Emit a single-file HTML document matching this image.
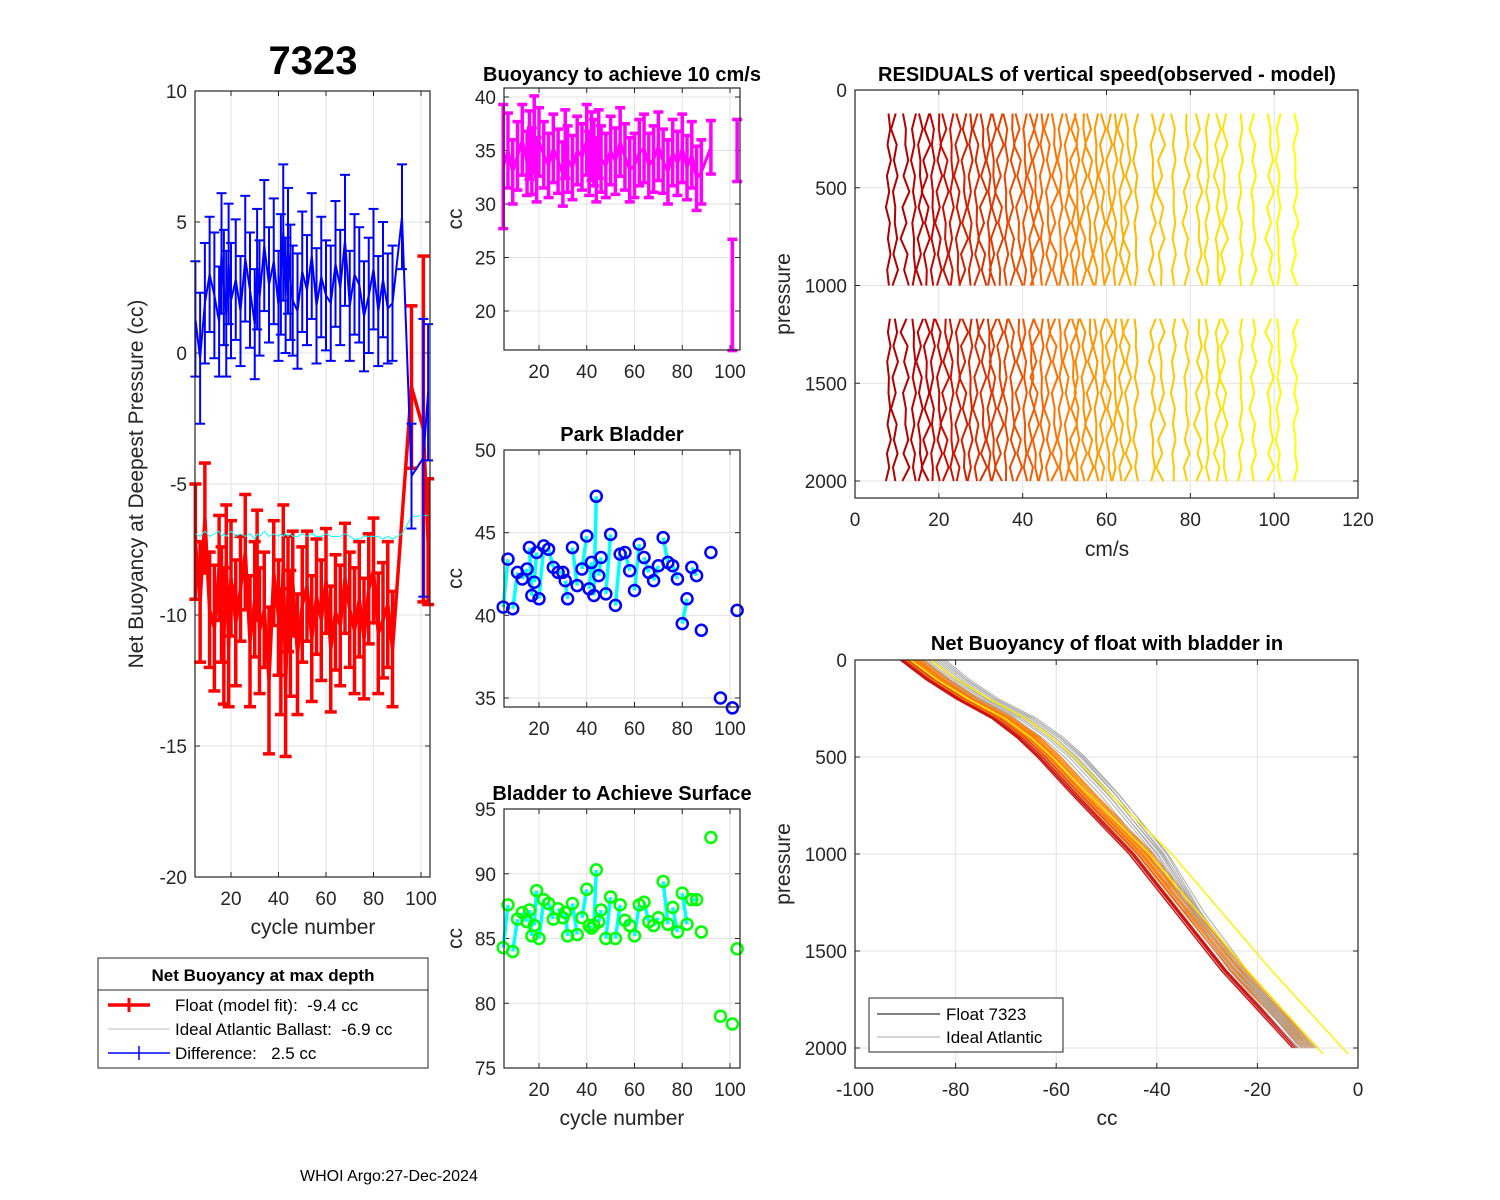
<!DOCTYPE html>
<html><head><meta charset="utf-8"><style>
html,body{margin:0;padding:0;background:#fff}
svg{display:block;font-family:"Liberation Sans",Arial,sans-serif}
text{white-space:pre}
</style></head><body>
<svg id="fig" width="1500" height="1200" viewBox="0 0 1500 1200" xmlns="http://www.w3.org/2000/svg">
<rect width="1500" height="1200" fill="#fff"/>
<g id="root"></g>
<text x="300" y="1181" font-size="16" fill="#000">WHOI Argo:27-Dec-2024</text>
</svg>
<script>
const cycles=[5,7,9,11,13,15,16,17,18,19,20,22,24,26,28,30,31,32,34,36,38,40,41,42,43,44,45,46,48,50,52,54,56,58,60,62,64,66,68,70,72,74,76,78,80,82,84,86,88,92,96,101,103];
const floatFit=[-7.2,-9.5,-6.3,-9.8,-10.5,-8.2,-9.6,-10.8,-7.9,-11.2,-8.6,-10.3,-9.0,-7.6,-11.0,-9.4,-8.1,-10.6,-9.8,-12.5,-8.4,-10.1,-11.4,-7.9,-12.8,-9.2,-10.7,-8.8,-11.5,-9.6,-8.9,-10.9,-9.3,-10.2,-8.7,-11.3,-9.9,-10.4,-8.6,-9.8,-10.6,-9.4,-10.9,-9.0,-8.3,-10.7,-10.2,-9.6,-11.3,null,-1.3,-2.9,-7.2];
const floatErr=[2.2,2.3,2.1,2.2,2.4,2.0,2.2,2.6,2.1,2.3,2.2,2.4,2.0,2.2,2.5,2.2,2.1,2.4,2.2,2.8,2.0,2.2,2.4,2.1,2.6,2.2,2.4,2.0,2.3,2.2,2.1,2.4,2.2,2.3,2.0,2.4,2.2,2.3,2.1,2.2,2.4,2.2,2.3,2.1,2.0,2.3,2.2,2.4,2.2,null,3.1,6.6,2.4];
const difference=[1.3,-0.2,1.9,3.0,2.2,1.2,3.8,2.5,1.5,3.4,2.0,2.8,1.6,3.6,2.4,1.1,3.2,2.1,4.1,2.6,3.5,1.8,3.0,4.6,2.2,3.9,2.7,2.0,1.6,3.1,2.4,3.7,1.8,2.9,2.2,1.9,3.4,2.5,4.3,1.8,3.0,2.6,1.4,2.2,3.2,1.6,2.8,1.7,1.9,5.2,-4.7,-4.0,-1.5];
const diffErr=[2.2,2.5,2.3,2.2,2.4,2.1,2.3,2.2,2.4,2.3,2.2,2.3,2.1,2.4,2.2,2.1,2.3,2.2,2.5,2.2,2.4,2.1,2.3,2.6,2.2,2.4,2.2,2.1,2.2,2.3,2.1,2.4,2.2,2.3,2.1,2.2,2.4,2.2,2.5,2.1,2.3,2.2,2.1,2.2,2.3,2.1,2.2,2.1,2.2,2.0,2.0,5.3,2.6];
const idealBallast=[-6.9,-7.0,-6.8,-7.0,-6.9,-6.8,-7.0,-6.9,-7.0,-6.9,-6.8,-7.0,-6.9,-7.0,-6.9,-7.1,-6.9,-7.0,-6.8,-7.0,-6.9,-7.0,-6.9,-7.0,-6.9,-7.0,-6.9,-7.0,-7.0,-6.9,-7.0,-6.9,-7.0,-7.0,-6.9,-7.0,-7.0,-7.0,-6.9,-7.0,-7.1,-7.1,-7.0,-7.0,-7.0,-7.0,-7.1,-7.0,-7.1,-6.9,-6.25,-6.2,-6.2];
const buoy10=[33.5,35.0,33.0,34.5,36.0,33.8,35.5,34.0,36.5,33.2,35.8,34.6,33.6,35.2,34.0,32.8,35.6,34.2,33.4,35.0,34.4,36.0,33.8,35.4,34.8,33.2,35.6,34.2,33.6,35.0,34.0,35.8,34.4,33.2,33.6,34.8,35.2,33.6,34.2,35.4,34.0,33.0,34.8,33.8,35.2,33.4,34.6,32.4,33.0,35.3,null,21.5,35.0];
const buoy10Err=[5.8,3.5,3.0,3.2,3.3,3.0,3.2,3.1,3.6,3.0,3.2,3.1,3.0,3.2,3.0,3.0,3.2,3.1,3.0,3.2,3.1,3.3,3.0,3.2,3.1,3.0,3.2,3.1,3.0,3.2,3.1,3.2,3.1,3.0,3.0,3.1,3.2,3.0,3.1,3.2,3.0,3.0,3.1,3.0,3.2,3.0,3.1,3.0,3.0,2.5,null,5.2,2.9];
const parkBladder=[40.5,43.4,40.4,42.6,42.2,42.8,44.1,41.2,42.0,43.8,41.0,44.2,44.0,42.9,42.6,42.6,42.1,41.0,44.1,41.8,42.8,44.8,41.6,43.2,41.2,47.2,42.4,43.5,41.3,44.9,40.6,43.7,43.8,42.7,41.5,44.3,43.5,42.6,42.1,43.0,44.7,43.2,43.0,42.2,39.5,41.0,42.9,42.4,39.1,43.8,35.0,34.4,40.3];
const surfBladder=[84.3,87.6,84.0,86.5,87.0,86.3,87.2,85.2,86.0,88.7,85.0,88.0,87.7,86.5,87.3,86.6,87.0,85.2,87.7,85.3,86.6,88.8,86.0,85.8,86.0,90.3,86.3,87.2,85.0,88.2,85.0,87.6,86.4,86.0,85.2,87.6,87.8,86.3,86.0,86.6,89.4,86.1,87.4,85.5,88.5,86.1,88.0,88.0,85.5,92.8,79.0,78.4,84.2];
const residOffsets=[8,9.5,12,14,15.5,17,18.5,20,21.5,23,24.5,26,27.5,29,30.5,32,33,34.5,36,37.5,39,40.5,42,43,44.5,46,47.5,49,50.5,52,53,54.5,56,57.5,59,60.5,62,63.5,65,67,71,73,76,79,82,84,86.5,88,92,95,99,101,105];
const residPattern=[0,0.5,-0.3,0.7,-0.5,0.2,-0.8,0.4,-0.2,0.6,-0.4,0.1];
const residPresUpper=[120,200,280,360,440,520,600,680,760,840,920,1000];
const residPresLower=[1170,1240,1310,1390,1470,1550,1630,1710,1790,1860,1930,2000];
const nbPres=[0,100,200,300,400,500,700,1000,1300,1600,2000];
const nbBase=[-88,-83,-77,-70,-65,-61,-54,-43,-34,-25,-11];
const nbShiftTop=[-3,-2.5,-2,-1.5,-1,-0.5,0,0.5,1,1.5,-2.8,-1.8,-0.8,0.2,1.2,2,2.5,3,3.5,4,4.5,5,5.5,6,3,-1];
const nbShiftBot=[-2,-1.5,-1,0,0.5,1,1.5,2,2.5,3,-1,0,1,2,-1,0,1,2,-0.5,0.5,1.5,2.5,0,1,9,4];
const nbKind=["r","r","r","r","o","o","o","o","o","o","r","o","o","o","g","g","g","g","g","g","g","g","g","g","y","y"];

const NS="http://www.w3.org/2000/svg";
const root=document.getElementById('root');
function el(tag,attrs,parent,name,inter){const e=document.createElementNS(NS,tag);for(const k in attrs)e.setAttribute(k,attrs[k]);


(parent||root).appendChild(e);return e;}
function txt(s,x,y,o,parent,name){const t=el('text',Object.assign({x:x,y:y,'font-size':19,fill:'#262626'},o||{}),parent,name);t.textContent=s;return t;}
function lin(a0,a1,p0,p1){return v=>p0+(v-a0)*(p1-p0)/(a1-a0);}

function axes(name,L,T,R,B,xs,ys,xticks,yticks,xfmt,yfmt){
  const g=el('g',{},root,name);
  el('rect',{x:L,y:T,width:R-L,height:B-T,fill:'#fff'},g,name+'-bg');
  xticks.forEach(v=>{const X=xs(v);el('line',{x1:X,x2:X,y1:T,y2:B,stroke:'#e3e3e3','stroke-width':1},g,'x-grid');
    el('line',{x1:X,x2:X,y1:B,y2:B-5,stroke:'#262626'},g,'x-tick');el('line',{x1:X,x2:X,y1:T,y2:T+5,stroke:'#262626'},g,'x-tick');
    txt(xfmt(v),X,B+28,{'text-anchor':'middle'},g,'x-tick-label');});
  yticks.forEach(v=>{const Y=ys(v);el('line',{x1:L,x2:R,y1:Y,y2:Y,stroke:'#e3e3e3','stroke-width':1},g,'y-grid');
    el('line',{x1:L,x2:L+5,y1:Y,y2:Y,stroke:'#262626'},g,'y-tick');el('line',{x1:R,x2:R-5,y1:Y,y2:Y,stroke:'#262626'},g,'y-tick');
    txt(yfmt(v),L-8,Y+7,{'text-anchor':'end'},g,'y-tick-label');});
  const d=el('g',{},g,name+'-data');
  el('rect',{x:L,y:T,width:R-L,height:B-T,fill:'none',stroke:'#262626','stroke-width':1.2},g,name+'-frame');
  return d;
}
const S=v=>String(v);

// Panel 1
{const xs=lin(0,100,183.5,421),ys=lin(10,-20,91,877);
 const d=axes('net-buoyancy-axes',195,91,430,877,xs,ys,[20,40,60,80,100],[-20,-15,-10,-5,0,5,10],S,S);
 function errbars(vals,errs,col,w,cap,name){let pts=[];
  cycles.forEach((c,i)=>{const v=vals[i];if(v==null)return;const X=xs(c),e=errs[i];
   el('line',{x1:X,x2:X,y1:ys(v-e),y2:ys(v+e),stroke:col,'stroke-width':w},d,name+'-errorbar');
   el('line',{x1:X-cap,x2:X+cap,y1:ys(v-e),y2:ys(v-e),stroke:col,'stroke-width':w},d,name+'-cap');
   el('line',{x1:X-cap,x2:X+cap,y1:ys(v+e),y2:ys(v+e),stroke:col,'stroke-width':w},d,name+'-cap');
   pts.push(X.toFixed(1)+','+ys(v).toFixed(1));});
  el('polyline',{points:pts.join(' '),fill:'none',stroke:col,'stroke-width':w},d,name+'-line');}
 errbars(floatFit,floatErr,'#ff0000',3.5,6,'float-fit');
 el('polyline',{points:cycles.map((c,i)=>xs(c).toFixed(1)+','+ys(idealBallast[i]).toFixed(1)).join(' '),fill:'none',stroke:'#00ffff','stroke-width':1},d,'ideal-ballast-line');
 errbars(difference,diffErr,'#0000ff',2,5,'difference');
 txt('7323',313,74,{'text-anchor':'middle','font-size':40,'font-weight':'bold',fill:'#000'},root,'float-id-title');
 txt('cycle number',313,934,{'text-anchor':'middle','font-size':21},root,'x-axis-title');
 txt('Net Buoyancy at Deepest Pressure (cc)',0,0,{'text-anchor':'middle','font-size':21,transform:'translate(143,484) rotate(-90)'},root,'y-axis-title');
}
// Legend
{const g=el('g',{},root,'legend');
 el('rect',{x:98,y:958,width:330,height:110,fill:'#fff',stroke:'#262626','stroke-width':1},g,'legend-box');
 txt('Net Buoyancy at max depth',263,981,{'text-anchor':'middle','font-size':17,'font-weight':'bold',fill:'#000'},g,'legend-title');
 el('line',{x1:98,x2:428,y1:990,y2:990,stroke:'#262626'},g,'legend-divider');
 el('line',{x1:108,x2:150,y1:1005,y2:1005,stroke:'#f00','stroke-width':3.5},g,'legend-swatch-float');
 el('line',{x1:129,x2:129,y1:998,y2:1012,stroke:'#f00','stroke-width':3},g,'legend-swatch-float');
 txt('Float (model fit):  -9.4 cc',175,1011,{'font-size':17,fill:'#000'},g,'legend-entry-float');
 el('line',{x1:108,x2:170,y1:1029,y2:1029,stroke:'#bbb','stroke-width':1},g,'legend-swatch-ideal');
 txt('Ideal Atlantic Ballast:  -6.9 cc',175,1035,{'font-size':17,fill:'#000'},g,'legend-entry-ideal');
 el('line',{x1:108,x2:170,y1:1053,y2:1053,stroke:'#00f','stroke-width':1.5},g,'legend-swatch-diff');
 el('line',{x1:139,x2:139,y1:1046,y2:1060,stroke:'#00f','stroke-width':1.5},g,'legend-swatch-diff');
 txt('Difference:   2.5 cc',175,1059,{'font-size':17,fill:'#000'},g,'legend-entry-diff');
}
// Panel 2a
{const xs=lin(20,100,539,730),ys=lin(40,20,97,311);
 const d=axes('buoyancy-10cms-axes',504,88,740,350,xs,ys,[20,40,60,80,100],[20,25,30,35,40],S,S);
 let pts=[];cycles.forEach((c,i)=>{const v=buoy10[i];if(v==null)return;const X=xs(c),e=buoy10Err[i];
  el('line',{x1:X,x2:X,y1:ys(v-e),y2:ys(v+e),stroke:'#ff00ff','stroke-width':3.5},d,'buoyancy-errorbar');
  [v-e,v+e].forEach(q=>el('line',{x1:X-5,x2:X+5,y1:ys(q),y2:ys(q),stroke:'#ff00ff','stroke-width':3.5},d,'buoyancy-cap'));
  if(c<=92)pts.push(X.toFixed(1)+','+ys(v).toFixed(1));});
 el('polyline',{points:pts.join(' '),fill:'none',stroke:'#ff00ff','stroke-width':3},d,'buoyancy-line');
 txt('Buoyancy to achieve 10 cm/s',622,81,{'text-anchor':'middle','font-size':20,'font-weight':'bold',fill:'#000'},root,'buoyancy-title');
 txt('cc',0,0,{'text-anchor':'middle','font-size':21,transform:'translate(462,219) rotate(-90)'},root,'buoyancy-y-title');
}
function scatterPanel(name,T,B,yt0,yt1,vals,ticks,col,title,ty){
 const xs=lin(20,100,539,730),ys=lin(yt0[0],yt1[0],yt0[1],yt1[1]);
 const d=axes(name+'-axes',504,T,740,B,xs,ys,[20,40,60,80,100],ticks,S,S);
 for(let i=0;i+1<cycles.length&&cycles[i+1]<=88;i+=2){
  el('line',{x1:xs(cycles[i]),y1:ys(vals[i]),x2:xs(cycles[i+1]),y2:ys(vals[i+1]),stroke:'#00ffff','stroke-width':3.5},d,name+'-link');}
 cycles.forEach((c,i)=>{el('circle',{cx:xs(c),cy:ys(vals[i]),r:5.5,fill:'none',stroke:col,'stroke-width':2.5},d,name+'-point');});
 txt(title,622,ty,{'text-anchor':'middle','font-size':20,'font-weight':'bold',fill:'#000'},root,name+'-title');
 txt('cc',0,0,{'text-anchor':'middle','font-size':21,transform:'translate(462,'+((T+B)/2)+') rotate(-90)'},root,name+'-y-title');
}
scatterPanel('park-bladder',450,707,[50,450],[35,698],parkBladder,[35,40,45,50],'#0000ff','Park Bladder',441);
scatterPanel('surface-bladder',809,1068,[95,809],[75,1068],surfBladder,[75,80,85,90,95],'#00ff00','Bladder to Achieve Surface',800);
txt('cycle number',622,1125,{'text-anchor':'middle','font-size':21},root,'surface-x-title');

function hot(t){const r=Math.round(175+80*Math.min(1,t*2)),g=Math.round(255*Math.max(0,(t-0.1)/0.9));return 'rgb('+r+','+g+',0)';}
// Residuals
{const xs=lin(0,120,855,1358),ys=lin(0,2000,90,481);
 const d=axes('residuals-axes',855,90,1358,498,xs,ys,[0,20,40,60,80,100,120],[0,500,1000,1500,2000],S,S);
 const n=residOffsets.length;
 residOffsets.forEach((o,k)=>{const col=hot(k/(n-1));
  [residPresUpper,residPresLower].forEach((pp,s)=>{
   const pts=pp.map((p,j)=>xs(o+residPattern[(j+k*5+s*7)%residPattern.length]*(0.8+(k%3)*0.3)).toFixed(1)+','+ys(p).toFixed(1));
   el('polyline',{points:pts.join(' '),fill:'none',stroke:col,'stroke-width':2},d,'residual-profile');});});
 txt('RESIDUALS of vertical speed(observed - model)',1107,81,{'text-anchor':'middle','font-size':20,'font-weight':'bold',fill:'#000'},root,'residuals-title');
 txt('cm/s',1107,556,{'text-anchor':'middle','font-size':21},root,'residuals-x-title');
 txt('pressure',0,0,{'text-anchor':'middle','font-size':21,transform:'translate(790,294) rotate(-90)'},root,'residuals-y-title');
}
// Net buoyancy profiles
{const xs=lin(-100,0,855,1358),ys=lin(0,2000,660,1048);
 const d=axes('bladder-in-axes',855,660,1358,1068,xs,ys,[-100,-80,-60,-40,-20,0],[0,500,1000,1500,2000],S,S);
 const cmap={r:'#c81010',o:'#ff7a00',g:'#a8a8a8',y:'#ffee00'};
 const order=[];nbKind.forEach((k,i)=>{if(k!=='y')order.push(i);});nbKind.forEach((k,i)=>{if(k==='y')order.push(i);});
 order.forEach(i=>{const pts=nbPres.map((p,j)=>{const f=p/2000;let x=nbBase[j]+nbShiftTop[i]*(1-f)+nbShiftBot[i]*f;
   if(nbKind[i]==='g'&&p>=200&&p<=1200)x+=2.5*Math.sin(Math.PI*(p-200)/1000);
   return xs(x).toFixed(1)+','+ys(p+(nbKind[i]==='y'&&j===nbPres.length-1?30:0)).toFixed(1);});
  el('polyline',{points:pts.join(' '),fill:'none',stroke:cmap[nbKind[i]],'stroke-width':nbKind[i]==='g'?1:1.5,opacity:0.95},d,'buoyancy-profile');});
 const lg=el('g',{},root,'profile-legend');
 el('rect',{x:869,y:998,width:194,height:54,fill:'#fff',stroke:'#262626'},lg,'profile-legend-box');
 el('line',{x1:877,x2:940,y1:1014,y2:1014,stroke:'#000','stroke-width':1},lg,'legend-swatch-float7323');
 txt('Float 7323',946,1020,{'font-size':17,fill:'#000'},lg,'legend-entry-float7323');
 el('line',{x1:877,x2:940,y1:1037,y2:1037,stroke:'#aaa','stroke-width':1},lg,'legend-swatch-ideal-atlantic');
 txt('Ideal Atlantic',946,1043,{'font-size':17,fill:'#000'},lg,'legend-entry-ideal-atlantic');
 txt('Net Buoyancy of float with bladder in',1107,650,{'text-anchor':'middle','font-size':20,'font-weight':'bold',fill:'#000'},root,'bladder-in-title');
 txt('cc',1107,1125,{'text-anchor':'middle','font-size':21},root,'bladder-in-x-title');
 txt('pressure',0,0,{'text-anchor':'middle','font-size':21,transform:'translate(790,864) rotate(-90)'},root,'bladder-in-y-title');
}
</script>
</body></html>
